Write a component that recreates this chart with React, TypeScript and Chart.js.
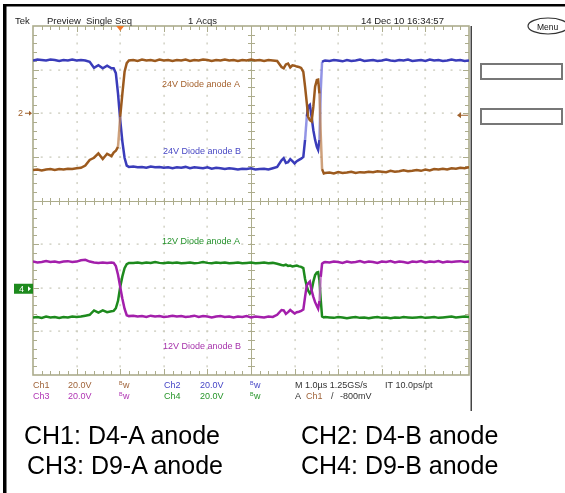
import React, { useEffect, useRef } from "react";
import { Chart, registerables } from "chart.js";

Chart.register(...registerables);

// Time axis in graticule divisions (1.0 µs / div), 0 = left edge of screen
const timeDiv = [
  0.0, 0.1, 0.2, 0.3, 0.4, 0.5, 0.6, 0.7, 0.8, 0.9, 1.0, 1.1, 1.2, 1.3, 1.4, 1.5, 1.6, 1.7, 1.8,
  1.85, 1.9, 1.95, 2.0, 2.05, 2.1, 2.15, 2.2,
  2.3, 2.4, 2.5, 2.6, 2.7, 2.8, 2.9, 3.0, 3.1, 3.2,
  3.3, 3.4, 3.5, 3.6, 3.7, 3.8, 3.9, 4.0, 4.1, 4.2,
  4.3, 4.4, 4.5, 4.6, 4.7, 4.8, 4.9, 5.0, 5.1, 5.2,
  5.3, 5.4, 5.5, 5.6, 5.7,
  5.75, 5.8, 5.85, 5.9, 5.95, 6.0, 6.05, 6.1, 6.15, 6.2,
  6.24, 6.28, 6.31, 6.35, 6.39, 6.43, 6.47, 6.51, 6.54, 6.57,
  6.6, 6.63, 6.67, 6.7,
  6.8, 6.9, 7.0, 7.1, 7.2, 7.3, 7.4, 7.5, 7.6, 7.7,
  7.8, 7.9, 8.0, 8.1, 8.2, 8.3, 8.4, 8.5, 8.6, 8.7,
  8.8, 8.9, 9.0, 9.1, 9.2, 9.3, 9.4, 9.5, 9.6, 9.7,
  9.8, 9.9, 10.0,
];

// Screen positions in vertical divisions (0 = centre line)
const ch1D4A = [
  0.70, 0.71, 0.69, 0.71, 0.72, 0.70, 0.72, 0.71, 0.73, 0.72, 0.74, 0.75, 0.80, 0.93, 0.98, 1.08, 0.95, 1.07, 1.02,
  1.10, 1.14, 1.23, 1.92, 2.45, 2.95, 3.15, 3.21,
  3.22, 3.20, 3.23, 3.21, 3.22, 3.20, 3.23, 3.21, 3.22, 3.20,
  3.22, 3.21, 3.23, 3.20, 3.22, 3.21, 3.23, 3.22, 3.20, 3.22,
  3.21, 3.23, 3.21, 3.22, 3.20, 3.22, 3.21, 3.23, 3.21, 3.22,
  3.20, 3.22, 3.21, 3.20, 3.06,
  3.03, 3.12, 3.14, 3.05, 3.10, 3.09, 3.07, 3.06, 3.04, 2.95,
  2.61, 2.23, 1.92, 1.84, 1.81, 2.15, 2.61, 2.76, 2.77, 2.45,
  1.50, 0.72, 0.62, 0.63,
  0.64, 0.62, 0.65, 0.63, 0.64, 0.66, 0.63, 0.65, 0.64, 0.66,
  0.65, 0.67, 0.66, 0.65, 0.68, 0.66, 0.67, 0.69, 0.67, 0.68,
  0.70, 0.68, 0.71, 0.69, 0.72, 0.71, 0.73, 0.71, 0.74, 0.73,
  0.75, 0.74, 0.76,
];

const ch2D4B = [
  3.21, 3.23, 3.22, 3.21, 3.23, 3.22, 3.20, 3.22, 3.21, 3.23, 3.21, 3.22, 3.21, 3.18, 3.04, 3.10, 3.03, 3.09, 3.03,
  3.03, 2.92, 2.45, 1.85, 1.35, 0.98, 0.80, 0.77,
  0.78, 0.76, 0.77, 0.75, 0.78, 0.76, 0.77, 0.75, 0.76, 0.74,
  0.76, 0.75, 0.77, 0.74, 0.76, 0.75, 0.74, 0.76, 0.73, 0.75,
  0.74, 0.72, 0.74, 0.73, 0.71, 0.73, 0.72, 0.74, 0.71, 0.72,
  0.73, 0.71, 0.74, 0.77, 0.92,
  0.97, 0.86, 0.88, 0.95, 0.90, 0.85, 0.90, 0.93, 0.96, 1.00,
  1.39, 1.92, 2.15, 2.19, 1.92, 1.61, 1.39, 1.23, 1.16, 1.39,
  2.53, 3.18, 3.20, 3.21,
  3.20, 3.22, 3.21, 3.19, 3.22, 3.20, 3.21, 3.23, 3.20, 3.21,
  3.22, 3.20, 3.21, 3.23, 3.21, 3.20, 3.22, 3.21, 3.23, 3.20,
  3.21, 3.22, 3.20, 3.23, 3.21, 3.22, 3.20, 3.21, 3.23, 3.21,
  3.22, 3.20, 3.21,
];

const ch3D9A = [
  -1.40, -1.42, -1.41, -1.39, -1.41, -1.40, -1.42, -1.40, -1.39, -1.41, -1.40, -1.37, -1.36, -1.40, -1.42, -1.43, -1.42, -1.43, -1.42,
  -1.43, -1.50, -1.70, -1.98, -2.25, -2.48, -2.63, -2.65,
  -2.64, -2.66, -2.65, -2.67, -2.64, -2.66, -2.65, -2.67, -2.66, -2.64,
  -2.66, -2.65, -2.67, -2.66, -2.64, -2.67, -2.65, -2.66, -2.68, -2.66,
  -2.65, -2.67, -2.66, -2.68, -2.66, -2.67, -2.65, -2.68, -2.66, -2.67,
  -2.68, -2.66, -2.67, -2.62, -2.51,
  -2.52, -2.60, -2.56, -2.51, -2.55, -2.59, -2.56, -2.55, -2.53, -2.50,
  -2.21, -1.94, -1.90, -1.86, -2.06, -2.21, -2.33, -2.42, -2.48, -2.30,
  -1.75, -1.45, -1.42, -1.41,
  -1.42, -1.40, -1.41, -1.43, -1.40, -1.42, -1.41, -1.39, -1.42, -1.40,
  -1.41, -1.43, -1.40, -1.41, -1.39, -1.42, -1.40, -1.41, -1.43, -1.40,
  -1.41, -1.39, -1.42, -1.40, -1.41, -1.39, -1.42, -1.40, -1.41, -1.40,
  -1.39, -1.41, -1.40,
];

const ch4D9B = [
  -2.68, -2.67, -2.69, -2.66, -2.68, -2.67, -2.69, -2.67, -2.68, -2.66, -2.67, -2.66, -2.64, -2.62, -2.52, -2.57, -2.52, -2.56, -2.54,
  -2.53, -2.47, -2.30, -1.98, -1.74, -1.55, -1.46, -1.43,
  -1.43, -1.42, -1.44, -1.42, -1.43, -1.41, -1.43, -1.44, -1.42, -1.43,
  -1.42, -1.44, -1.43, -1.42, -1.44, -1.43, -1.41, -1.43, -1.44, -1.42,
  -1.43, -1.42, -1.44, -1.43, -1.42, -1.44, -1.43, -1.42, -1.44, -1.43,
  -1.42, -1.44, -1.43, -1.45, -1.48,
  -1.49, -1.47, -1.50, -1.49, -1.51, -1.50, -1.49, -1.51, -1.52, -1.55,
  -1.80, -1.97, -2.06, -2.13, -2.06, -1.86, -1.71, -1.65, -1.64, -1.83,
  -2.28, -2.66, -2.68, -2.67,
  -2.68, -2.69, -2.67, -2.68, -2.70, -2.68, -2.67, -2.69, -2.68, -2.70,
  -2.68, -2.67, -2.69, -2.68, -2.70, -2.68, -2.69, -2.67, -2.68, -2.69,
  -2.68, -2.67, -2.69, -2.68, -2.67, -2.69, -2.68, -2.67, -2.66, -2.68,
  -2.67, -2.66, -2.67,
];

const divX = [0, 1, 2, 3, 4, 5, 6, 7, 8, 9, 10];
const divY = [-4, -3, -2, -1, 0, 1, 2, 3, 4];
const triggerDiv = 2;

const traceLabels = [
  { text: "24V Diode anode A", x: 162, y: 87, color: "#a5622e" },
  { text: "24V Diode anode B", x: 163, y: 154, color: "#4848c4" },
  { text: "12V Diode anode A", x: 162, y: 244, color: "#23912a" },
  { text: "12V Diode anode B", x: 163, y: 349, color: "#a632ab" },
];

const captions = [
  { text: "CH1: D4-A anode", left: 24, baseline: 444 },
  { text: "CH2: D4-B anode", left: 301, baseline: 444 },
  { text: "CH3: D9-A anode", left: 27, baseline: 474 },
  { text: "CH4: D9-B anode", left: 301, baseline: 474 },
];

const C_BROWN = "#9c5a1e";
const C_BLUE = "#3a3cba";
const C_MAGENTA = "#a31fab";
const C_GREEN = "#1d8a1d";
const C_BROWN_EDGE = "rgba(190,130,80,0.75)";
const C_BLUE_EDGE = "rgba(110,112,220,0.75)";
const C_MAGENTA_EDGE = "rgba(200,100,205,0.75)";
const C_GREEN_EDGE = "rgba(90,175,90,0.75)";
const FONT = "'Liberation Sans', Arial, sans-serif";

const graticulePlugin = {
  id: "scopeGraticule",
  beforeDatasetsDraw(chart: any) {
    const { ctx, chartArea: a, scales } = chart;
    const xs = scales.x;
    const ys = scales.y;
    const khaki = "#acac8c";
    ctx.save();
    ctx.fillStyle = "#c6c6b6";
    for (const gx of divX) {
      if (gx === 0 || gx === 10 || gx === 5) continue;
      const px = Math.round(xs.getPixelForValue(gx));
      for (let k = 1; k < 40; k++) {
        const py = ys.getPixelForValue(-4 + k * 0.2);
        ctx.fillRect(px - 0.5, py - 1, 1.2, 2);
      }
    }
    for (const gy of divY) {
      if (gy === -4 || gy === 4 || gy === 0) continue;
      const py = Math.round(ys.getPixelForValue(gy));
      for (let k = 1; k < 50; k++) {
        const px = xs.getPixelForValue(k * 0.2);
        ctx.fillRect(px - 1, py - 0.5, 2, 1.2);
      }
    }
    ctx.strokeStyle = khaki;
    ctx.lineWidth = 1;
    const cx = Math.round(xs.getPixelForValue(5)) + 0.5;
    const cy = Math.round(ys.getPixelForValue(0)) + 0.5;
    ctx.beginPath();
    ctx.moveTo(cx, a.top);
    ctx.lineTo(cx, a.bottom);
    ctx.moveTo(a.left, cy);
    ctx.lineTo(a.right, cy);
    for (let k = 1; k < 50; k++) {
      const px = Math.round(xs.getPixelForValue(k * 0.2)) + 0.5;
      const major = k % 5 === 0;
      ctx.moveTo(px, cy - 3.5);
      ctx.lineTo(px, cy + 3.5);
      ctx.moveTo(px, a.top);
      ctx.lineTo(px, a.top + (major ? 6 : 4));
      ctx.moveTo(px, a.bottom);
      ctx.lineTo(px, a.bottom - (major ? 6 : 4));
    }
    for (let k = 1; k < 40; k++) {
      const py = Math.round(ys.getPixelForValue(-4 + k * 0.2)) + 0.5;
      const major = k % 5 === 0;
      ctx.moveTo(cx - 3.5, py);
      ctx.lineTo(cx + 3.5, py);
      ctx.moveTo(a.left, py);
      ctx.lineTo(a.left + (major ? 6 : 4), py);
      ctx.moveTo(a.right, py);
      ctx.lineTo(a.right - (major ? 6 : 4), py);
    }
    ctx.stroke();
    ctx.lineWidth = 1.6;
    ctx.strokeRect(a.left, a.top, a.right - a.left, a.bottom - a.top);
    ctx.restore();
  },
};

function txt(ctx: CanvasRenderingContext2D, s: string, x: number, y: number, color: string, size = 9) {
  ctx.font = `${size}px ${FONT}`;
  ctx.fillStyle = color;
  ctx.fillText(s, x, y);
}

function bw(ctx: CanvasRenderingContext2D, x: number, y: number, color: string) {
  txt(ctx, "B", x, y - 3, color, 5.5);
  txt(ctx, "w", x + 4, y, color, 9);
}

const overlayPlugin = {
  id: "scopeOverlay",
  afterDraw(chart: any) {
    const { ctx, chartArea: a, scales } = chart;
    const xs = scales.x;
    const ys = scales.y;
    ctx.save();
    ctx.textBaseline = "alphabetic";
    ctx.fillStyle = "#000";
    ctx.fillRect(3, 4, 3.5, 489);
    ctx.fillRect(3, 4, 562, 2.5);
    ctx.fillStyle = "#444";
    ctx.fillRect(a.right + 1.5, a.top, 1.5, 411 - a.top);

    const hc = "#222";
    txt(ctx, "Tek", 15, 24, hc, 9.5);
    txt(ctx, "Preview", 47, 24, hc, 9.5);
    txt(ctx, "Single Seq", 86, 24, hc, 9.5);
    txt(ctx, "1 Acqs", 188, 24, hc, 9.5);
    txt(ctx, "14 Dec 10 16:34:57", 361, 24, hc, 9.5);

    ctx.strokeStyle = "#333";
    ctx.lineWidth = 1.2;
    ctx.beginPath();
    ctx.ellipse(548, 26, 20, 8, 0, 0, Math.PI * 2);
    ctx.stroke();
    txt(ctx, "Menu", 537, 30, "#111", 8.5);

    ctx.strokeStyle = "#777";
    ctx.lineWidth = 2;
    ctx.strokeRect(481, 64, 81, 15);
    ctx.strokeRect(481, 109, 81, 15);

    const tx = xs.getPixelForValue(triggerDiv);
    ctx.fillStyle = "#f07828";
    ctx.beginPath();
    ctx.moveTo(tx - 4, a.top);
    ctx.lineTo(tx + 4, a.top);
    ctx.lineTo(tx, a.top + 5);
    ctx.closePath();
    ctx.fill();

    const y2 = ys.getPixelForValue(2);
    txt(ctx, "2", 18, y2 + 3, "#a0602a", 9);
    ctx.strokeStyle = "#a0602a";
    ctx.lineWidth = 1;
    ctx.beginPath();
    ctx.moveTo(25, y2);
    ctx.lineTo(31, y2);
    ctx.stroke();
    ctx.fillStyle = "#a0602a";
    ctx.beginPath();
    ctx.moveTo(32, y2);
    ctx.lineTo(29, y2 - 2.5);
    ctx.lineTo(29, y2 + 2.5);
    ctx.closePath();
    ctx.fill();

    ctx.beginPath();
    ctx.moveTo(468, y2 + 2);
    ctx.lineTo(459, y2 + 2);
    ctx.stroke();
    ctx.beginPath();
    ctx.moveTo(457, y2 + 2);
    ctx.lineTo(461, y2 - 1);
    ctx.lineTo(461, y2 + 5);
    ctx.closePath();
    ctx.fill();

    const y4 = ys.getPixelForValue(-2);
    ctx.fillStyle = "#1d8a1d";
    ctx.fillRect(14, y4 - 4, 19, 10);
    txt(ctx, "4", 19, y4 + 4, "#fff", 9);
    ctx.fillStyle = "#fff";
    ctx.beginPath();
    ctx.moveTo(31, y4 + 1);
    ctx.lineTo(28, y4 - 1.5);
    ctx.lineTo(28, y4 + 3.5);
    ctx.closePath();
    ctx.fill();

    for (const l of traceLabels) txt(ctx, l.text, l.x, l.y, l.color, 9);

    const r1 = 388;
    const r2 = 399;
    const tb = "#a0643a";
    const tm = "#b036b4";
    const tbl = "#4646c6";
    const tg = "#27952a";
    txt(ctx, "Ch1", 33, r1, tb);
    txt(ctx, "20.0V", 68, r1, tb);
    bw(ctx, 119, r1, tb);
    txt(ctx, "Ch2", 164, r1, tbl);
    txt(ctx, "20.0V", 200, r1, tbl);
    bw(ctx, 250, r1, tbl);
    txt(ctx, "M 1.0µs 1.25GS/s", 295, r1, "#333");
    txt(ctx, "IT 10.0ps/pt", 385, r1, "#333");
    txt(ctx, "Ch3", 33, r2, tm);
    txt(ctx, "20.0V", 68, r2, tm);
    bw(ctx, 119, r2, tm);
    txt(ctx, "Ch4", 164, r2, tg);
    txt(ctx, "20.0V", 200, r2, tg);
    bw(ctx, 250, r2, tg);
    txt(ctx, "A", 295, r2, "#333");
    txt(ctx, "Ch1", 306, r2, tb);
    txt(ctx, "/", 331, r2, "#333");
    txt(ctx, "-800mV", 340, r2, "#333");
    ctx.restore();
  },
};

export default function App() {
  const canvasRef = useRef<HTMLCanvasElement | null>(null);

  useEffect(() => {
    const canvas = canvasRef.current;
    if (!canvas) return;
    const mk = (vals: number[]) => timeDiv.map((t, i) => ({ x: t, y: vals[i] }));
    const ds = (label: string, vals: number[], color: string, edge: string) => ({
      label,
      data: mk(vals),
      borderColor: color,
      backgroundColor: color,
      borderWidth: 2.5,
      pointRadius: 0,
      tension: 0,
      fill: false,
      segment: {
        borderColor: (c: any) => {
          const dx = c.p1.parsed.x - c.p0.parsed.x;
          const dy = c.p1.parsed.y - c.p0.parsed.y;
          return Math.abs(dy) > 0.5 && Math.abs(dy / dx) > 12 ? edge : undefined;
        },
      },
    });
    const chart = new Chart(canvas, {
      type: "line",
      data: {
        datasets: [
          ds("CH1: D4-A anode", ch1D4A, C_BROWN, C_BROWN_EDGE),
          ds("CH2: D4-B anode", ch2D4B, C_BLUE, C_BLUE_EDGE),
          ds("CH3: D9-A anode", ch3D9A, C_MAGENTA, C_MAGENTA_EDGE),
          ds("CH4: D9-B anode", ch4D9B, C_GREEN, C_GREEN_EDGE),
        ],
      },
      options: {
        responsive: false,
        animation: false,
        devicePixelRatio: 1,
        layout: { padding: { left: 33, top: 26, right: 96, bottom: 118 } },
        plugins: { legend: { display: false }, tooltip: { enabled: false }, title: { display: false } },
        scales: {
          x: { type: "linear", min: 0, max: 10, display: false },
          y: { type: "linear", min: -4, max: 4, display: false },
        },
        events: [],
      },
      plugins: [graticulePlugin, overlayPlugin],
    } as any);
    return () => chart.destroy();
  }, []);

  return (
    <div
      style={{
        position: "absolute",
        left: 0,
        top: 0,
        width: 565,
        height: 493,
        background: "#fff",
        overflow: "hidden",
      }}
    >
      <canvas
        ref={canvasRef}
        width={565}
        height={493}
        style={{ position: "absolute", left: 0, top: 0, width: 565, height: 493, display: "block" }}
      />
      {captions.map((c) => (
        <div
          key={c.text}
          style={{
            position: "absolute",
            left: c.left,
            top: c.baseline - 21.2,
            fontFamily: FONT,
            fontSize: 25,
            lineHeight: "25px",
            color: "#000",
            whiteSpace: "nowrap",
          }}
        >
          {c.text}
        </div>
      ))}
    </div>
  );
}
